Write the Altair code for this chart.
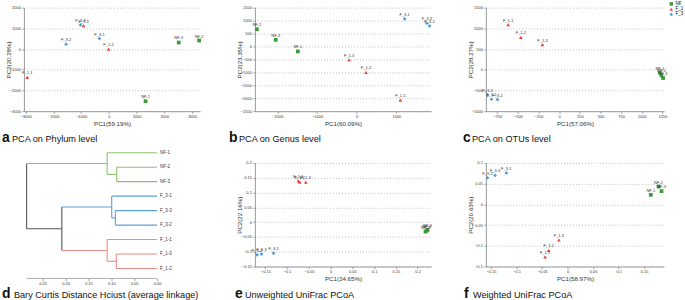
import altair as alt
import pandas as pd

FONT = "Liberation Sans"

samples = ["NF-1", "NF-2", "NF-3", "F_1-1", "F_1-2", "F_1-3", "F_3-1", "F_3-2", "F_3-3"]
groups = ["NF", "NF", "NF", "F_1", "F_1", "F_1", "F_3", "F_3", "F_3"]

grp_domain = ["NF", "F_1", "F_3"]
grp_colors = ["#3a9a3a", "#e8453c", "#4a9ee0"]
grp_shapes = ["square", "triangle-up", "diamond"]

# (a) PCA on Phylum level
phylum_pc1 = [1325, 3253, 2518, -2940, -10, -910, -337, -1540, -1020]
phylum_pc2 = [-2519, 413, 317, -1365, -3, 1135, 506, 237, 1167]
# (b) PCA on Genus level
genus_pc1 = [-1483, -2517, -2042, 1100, 233, -192, 1208, 1833, 1767]
genus_pc2 = [-192, 667, 256, -2077, -1000, -513, 1064, 795, 897]
# (c) PCA on OTUs level
otu_pc1 = [1218, 1238, 1258, -617, -464, -202, -819, -746, -867]
otu_pc2 = [-72, -136, -200, 1088, 784, 608, -712, -720, -616]
# (e) Unweighted UniFrac PCoA
unw_pc1 = [0.218, 0.223, 0.221, -0.074, -0.071, -0.057, -0.131, -0.169, -0.159]
unw_pc2 = [-0.032, -0.026, -0.029, 0.139, 0.135, 0.135, -0.105, -0.111, -0.108]
# (f) Weighted UniFrac PCoA
w_pc1 = [0.163, 0.178, 0.184, -0.044, -0.037, -0.017, -0.120, -0.157, -0.142]
w_pc2 = [0.023, 0.043, 0.032, -0.127, -0.111, -0.086, 0.076, 0.064, 0.070]

# (d) dendrogram
leaf_order = ["NF-1", "NF-2", "NF-3", "F_3-1", "F_3-3", "F_3-2", "F_1-1", "F_1-3", "F_1-2"]
leaf_group = ["NF", "NF", "NF", "F_3", "F_3", "F_3", "F_1", "F_1", "F_1"]
merge_left = ["NF-2", "NF-1", "F_3-3", "F_3-1", "F_1-3", "F_1-1", "m3", "m1"]
merge_right = ["NF-3", "m0", "F_3-2", "m2", "F_1-2", "m4", "m5", "m6"]
merge_height = [0.088, 0.109, 0.091, 0.099, 0.089, 0.109, 0.208, 0.285]
dist_ticks = [0.25, 0.2, 0.15, 0.1, 0.05, 0.0]
tree_colors = {"NF": "#8cc46e", "F_3": "#5b9fd8", "F_1": "#f08a8a", "mixed": "#555555"}

W1, W2, W3 = 177, 177, 179
H = 104

AX = dict(labelOverlap=False, labelFlush=False, labelFontSize=4, labelPadding=1.5,
          tickSize=2, titleFontSize=6.2, titleFontWeight="normal", domainColor="#999",
          tickColor="#999", labelColor="#333", titleColor="#333",
          labelFont=FONT, titleFont=FONT)


def caption(letter, text, lx, tx, cy):
    d = alt.Data(values=[{"l": letter, "t": text}])
    a = alt.Chart(d).mark_text(align="left", baseline="middle", fontSize=14,
                               fontWeight="bold", font=FONT, color="#111").encode(
        x=alt.value(lx), y=alt.value(cy), text="l:N")
    b = alt.Chart(d).mark_text(align="left", baseline="middle", fontSize=9.2,
                               font=FONT, color="#111").encode(
        x=alt.value(tx), y=alt.value(cy + 1), text="t:N")
    return [a, b]


def scatter(pc1, pc2, xdom, ydom, xticks, yticks, xtitle, ytitle, fmt,
            letter, cap, lx, tx, cy, w, legend=False):
    df = pd.DataFrame({"sample": samples, "group": groups, "pc1": pc1, "pc2": pc2})
    cs = alt.Scale(domain=grp_domain, range=grp_colors)
    ss = alt.Scale(domain=grp_domain, range=grp_shapes)
    if legend:
        leg = alt.Legend(orient="none", legendX=w + 5, legendY=-6, title=None,
                         labelFontSize=4.5, symbolSize=12, rowPadding=0.3,
                         labelOffset=2, padding=0, symbolStrokeWidth=0,
                         labelFont=FONT)
        color = alt.Color("group:N", scale=cs, legend=leg)
        shape = alt.Shape("group:N", scale=ss, legend=leg)
    else:
        color = alt.Color("group:N", scale=cs, legend=None)
        shape = alt.Shape("group:N", scale=ss, legend=None)
    x = alt.X("pc1:Q", scale=alt.Scale(domain=xdom, nice=False, zero=False),
              axis=alt.Axis(values=xticks, format=fmt, title=xtitle, grid=False,
                            minExtent=7, maxExtent=7, titlePadding=2, **AX))
    y = alt.Y("pc2:Q", scale=alt.Scale(domain=ydom, nice=False, zero=False),
              axis=alt.Axis(values=yticks, format=fmt, title=ytitle, grid=True,
                            gridDash=[1, 2], gridColor="#bdbdbd",
                            minExtent=9, maxExtent=9, titlePadding=3.5, **AX))
    basec = alt.Chart(df).encode(x=x, y=y)
    pts = basec.mark_point(filled=True, size=14, opacity=1).encode(color=color, shape=shape)
    lab = basec.mark_text(fontSize=4, dy=-4, color="#333", font=FONT).encode(text="sample:N")
    return alt.layer(pts, lab, *caption(letter, cap, lx, tx, cy)).properties(width=w, height=H)


a = scatter(phylum_pc1, phylum_pc2, [-3060, 3290], [-3000, 2000],
            [-3000, -2000, -1000, 0, 1000, 2000, 3000], [-3000, -2000, -1000, 0, 1000, 2000],
            "PC1(59.19%)", "PC2(20.28%)", "d", "a", "PCA on Phylum level", -22, -12, H + 27, W1)
b = scatter(genus_pc1, genus_pc2, [-2567, 1875], [-2500, 1500],
            [-2000, -1000, 0, 1000], [-2500, -2000, -1500, -1000, -500, 0, 500, 1000, 1500],
            "PC1(60.09%)", "PC2(23.35%)", "d", "b", "PCA on Genus level", -26, -16, H + 27, W2)
c = scatter(otu_pc1, otu_pc2, [-887, 1270], [-1000, 1500],
            [-750, -500, -250, 0, 250, 500, 750, 1000, 1250], [-1000, -500, 0, 500, 1000, 1500],
            "PC1(57.06%)", "PC2(28.27%)", "d", "c", "PCA on OTUs level", -23, -14, H + 27, W3,
            legend=True)
e = scatter(unw_pc1, unw_pc2, [-0.174, 0.231], [-0.15, 0.2],
            [-0.15, -0.1, -0.05, 0, 0.05, 0.1, 0.15, 0.2],
            [-0.15, -0.1, -0.05, 0, 0.05, 0.1, 0.15, 0.2],
            "PC1(34.65%)", "PC2(22.16%)", "~g", "e", "Unweighted UniFrac PCoA", -20, -10, H + 28, W2)
f = scatter(w_pc1, w_pc2, [-0.160, 0.189], [-0.15, 0.1],
            [-0.15, -0.1, -0.05, 0, 0.05, 0.1, 0.15],
            [-0.15, -0.1, -0.05, 0, 0.05, 0.1],
            "PC1(58.97%)", "PC2(20.63%)", "~g", "f", "Weighted UniFrac PCoA", -22, -13, H + 28, W3)

# ---- dendrogram segments built from the merge table ----
pos = {}
col = {}
for i, (lf, g) in enumerate(zip(leaf_order, leaf_group)):
    pos[lf] = (0.0, float(i))
    col[lf] = g
segs = []
for k, (l, r, hgt) in enumerate(zip(merge_left, merge_right, merge_height)):
    name = "m%d" % k
    yl, yr = pos[l][1], pos[r][1]
    node_col = col[l] if col[l] == col[r] else "mixed"
    pos[name] = (hgt, (yl + yr) / 2)
    col[name] = node_col
    segs.append({"x": hgt, "x2": hgt, "y": yl, "y2": yr, "c": tree_colors[node_col]})
    for ch in (l, r):
        segs.append({"x": hgt, "x2": pos[ch][0], "y": pos[ch][1], "y2": pos[ch][1],
                     "c": tree_colors[col[ch]]})
segdf = pd.DataFrame(segs)
leafdf = pd.DataFrame({"leaf": leaf_order, "x": [0.0] * len(leaf_order),
                       "y": [float(i) for i in range(len(leaf_order))]})
basedf = pd.DataFrame({"x": [merge_height[-1]], "x2": [0.0]})

xs = alt.Scale(domain=[-0.0942, 0.2909], reverse=True, nice=False, zero=False)
ys = alt.Scale(domain=[0.708, 7.86], reverse=True, nice=False, zero=False)
XD = alt.X("x:Q", scale=xs, axis=alt.Axis(values=dist_ticks, format=".2f", domain=False,
                                          offset=12, title=None, grid=False, **AX))
YD = alt.Y("y:Q", scale=ys, axis=None)
tree = alt.Chart(segdf).mark_rule(strokeWidth=1.1).encode(
    x=XD, x2="x2:Q", y=YD, y2="y2:Q", color=alt.Color("c:N", scale=None))
base = alt.Chart(basedf).mark_rule(color="#999", strokeWidth=0.8).encode(
    x=XD, x2="x2:Q", y=alt.value(H + 12))
leaves = alt.Chart(leafdf).mark_text(align="left", baseline="middle", dx=3, fontSize=4.5,
                                     color="#333", font=FONT).encode(
    x=XD, y=YD, text="leaf:N")
d = alt.layer(tree, base, leaves,
              *caption("d", "Bary Curtis Distance Hciust (average linkage)", -22, -10, H + 28)
              ).properties(width=W1, height=H)

chart = alt.concat(a, b, c, d, e, f, columns=3, bounds="flush",
                   spacing={"row": 52, "column": 55}).resolve_scale(
    color="independent", shape="independent").properties(
    padding={"left": 1, "top": 0, "right": 0, "bottom": 0}
).configure(font=FONT).configure_view(stroke="transparent")

chart.save("out.html", embed_options={"renderer": "svg", "actions": False})
